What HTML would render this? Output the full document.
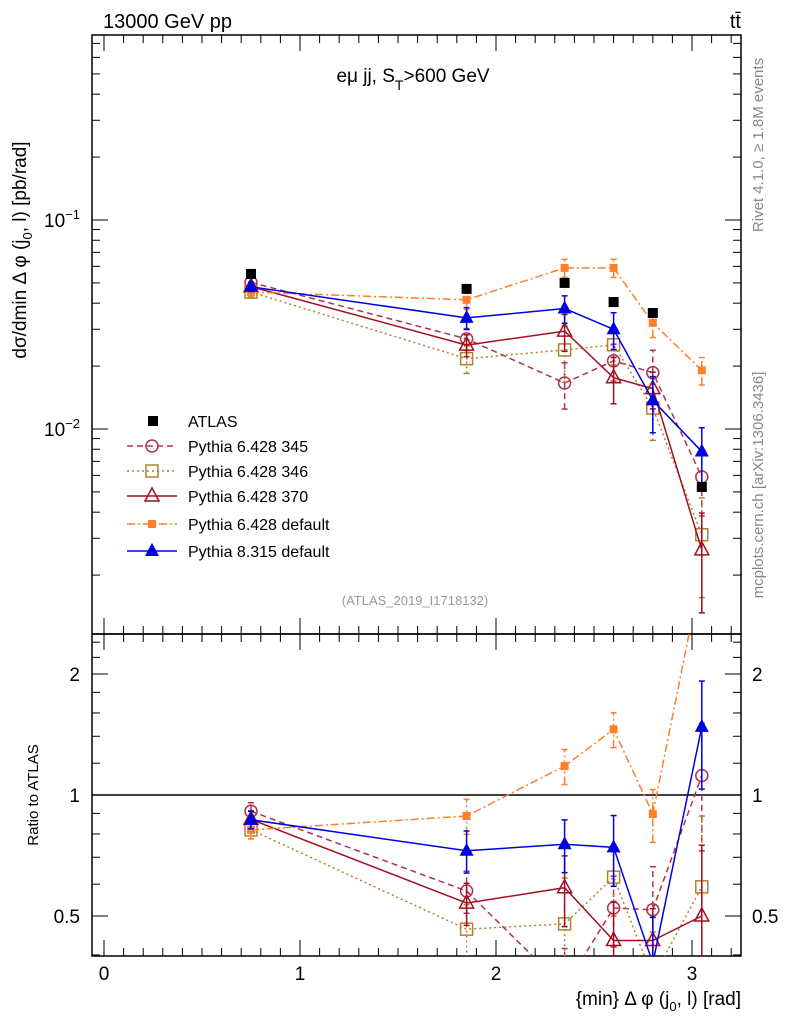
<!DOCTYPE html>
<html><head><meta charset="utf-8"><style>
body{margin:0;background:#fff;}
svg{font-family:"Liberation Sans",sans-serif;}
</style></head><body>
<svg id="c" width="786" height="1024" viewBox="0 0 786 1024">
<text x="103" y="28" font-size="20">13000 GeV pp</text>
<text x="741" y="28" font-size="20" text-anchor="end">tt̄</text>
<text x="413" y="82" font-size="19" text-anchor="middle">eμ jj, S<tspan dy="8" font-size="14">T</tspan><tspan dy="-8">&gt;600 GeV</tspan></text>
<text x="415" y="605" font-size="13" fill="#999" text-anchor="middle">(ATLAS_2019_I1718132)</text>
<text transform="translate(763,145) rotate(-90)" font-size="15" fill="#888" text-anchor="middle">Rivet 4.1.0, ≥ 1.8M events</text>
<text transform="translate(763,485) rotate(-90)" font-size="15" fill="#888" text-anchor="middle">mcplots.cern.ch [arXiv:1306.3436]</text>
<text transform="translate(26,250) rotate(-90)" font-size="19" text-anchor="middle">dσ/dmin Δ φ (j<tspan dy="6" font-size="13">0</tspan><tspan dy="-6">, l) [pb/rad]</tspan></text>
<text transform="translate(38,795) rotate(-90)" font-size="15" text-anchor="middle">Ratio to ATLAS</text>
<text x="741" y="1005" font-size="19" text-anchor="end">{min} Δ φ (j<tspan dy="6" font-size="13">0</tspan><tspan dy="-6">, l) [rad]</tspan></text>
<defs>
<clipPath id="cm"><rect x="92" y="35" width="649" height="599"/></clipPath>
<clipPath id="cr"><rect x="92" y="634" width="649" height="322"/></clipPath>
</defs>
<g id="axes"></g>
<g id="main" clip-path="url(#cm)"></g>
<g id="ratio" clip-path="url(#cr)"></g>
<g id="legend"></g>
</svg>
<script>
const xs=[0.75,1.85,2.35,2.6,2.8,3.05];
const atlas=[0.0552,0.0468,0.050,0.0405,0.0359,0.00528];
const py345=[0.0503,0.027,0.0166,0.0212,0.0186,0.0059];
const py346=[0.0452,0.0217,0.0239,0.0253,0.0126,0.00312];
const py370=[0.048,0.0252,0.0294,0.0176,0.0156,0.00264];
const py6def=[0.0452,0.0415,0.059,0.059,0.0322,0.0191];
const py8=[0.0479,0.034,0.0377,0.030,0.0137,0.0078];
const err345=[0.05,0.12,0.25,0.2,0.28,0.35];
const err346=[0.05,0.15,0.3,0.2,0.3,0.5];
const err370=[0.05,0.12,0.2,0.25,0.2,0.5];
const err6def=[0.05,0.1,0.1,0.1,0.15,0.15];
const err8=[0.05,0.12,0.15,0.2,0.3,0.3];
const xTicks=[0,1,2,3];
const yTicks=[0.1,0.01];
const rTicks=[0.5,1,2];
const NS="http://www.w3.org/2000/svg";
const L=92,R=741,MT=35,MB=634,RB=956;
const X=v=>104+v*196;
const Y=v=>220-(Math.log10(v)+1)*209;
const RY=v=>795-Math.log2(v)*121;
function el(t,a,p){const e=document.createElementNS(NS,t);for(const k in a)e.setAttribute(k,a[k]);p.appendChild(e);return e;}
const ax=document.getElementById('axes'),gm=document.getElementById('main'),gr=document.getElementById('ratio'),lg=document.getElementById('legend');
let f=el('rect',{x:L,y:MT,width:R-L,height:MB-MT,fill:'none',stroke:'#000','stroke-width':1.5},ax);

f=el('rect',{x:L,y:MB,width:R-L,height:RB-MB,fill:'none',stroke:'#000','stroke-width':1.5},ax);

for(let i=0;i<=33;i++){const v=i/10,x=X(v);if(x<L||x>R)continue;const big=i%10==0,len=big?16:8;
[MT,MB].forEach(y0=>{el('line',{x1:x,y1:y0,x2:x,y2:y0+len,stroke:'#000'},ax);});
[MB,RB].forEach(y0=>{el('line',{x1:x,y1:y0,x2:x,y2:y0-len,stroke:'#000'},ax);});}
xTicks.forEach(v=>{const t=el('text',{x:X(v),y:980,'font-size':19,'text-anchor':'middle'},ax);t.textContent=v;
});
for(let d=-3;d<=0;d++)for(let m=1;m<=9;m++){const v=m*Math.pow(10,d),y=Y(v);if(y<MT||y>MB)continue;const len=m==1?16:8;
el('line',{x1:L,y1:y,x2:L+len,y2:y,stroke:'#000'},ax);el('line',{x1:R,y1:y,x2:R-len,y2:y,stroke:'#000'},ax);}
yTicks.forEach(v=>{const e=Math.round(Math.log10(v));const t=el('text',{x:80,y:Y(v)+7,'font-size':19,'text-anchor':'end'},ax);
t.innerHTML='10<tspan dy="-8" font-size="13">−'+(-e)+'</tspan>';});
[0.4,0.5,0.6,0.7,0.8,0.9,1,1.2,1.4,1.6,1.8,2,2.2,2.4].forEach(v=>{const y=RY(v);if(y<MB||y>RB)return;const big=[0.5,1,2].includes(v),len=big?16:8;
el('line',{x1:L,y1:y,x2:L+len,y2:y,stroke:'#000'},ax);el('line',{x1:R,y1:y,x2:R-len,y2:y,stroke:'#000'},ax);});
rTicks.forEach(v=>{[[80,'end'],[752,'start']].forEach(([x,a])=>{const t=el('text',{x:x,y:RY(v)+7,'font-size':19,'text-anchor':a},ax);t.textContent=v;
});});
el('line',{x1:L,y1:RY(1),x2:R,y2:RY(1),stroke:'#000','stroke-width':1.5},gr);
function marker(p,type,c,x,y){
 if(type=='sqf')return el('rect',{x:x-5,y:y-5,width:10,height:10,fill:c},p);
 if(type=='sqs')return el('rect',{x:x-4,y:y-4,width:8,height:8,fill:c},p);
 if(type=='circ')return el('circle',{cx:x,cy:y,r:6,fill:'none',stroke:c,'stroke-width':1.5},p);
 if(type=='sqo')return el('rect',{x:x-6,y:y-6,width:12,height:12,fill:'none',stroke:c,'stroke-width':1.5},p);
 if(type=='trio')return el('polygon',{points:`${x},${y-8} ${x-7},${y+5} ${x+7},${y+5}`,fill:'none',stroke:c,'stroke-width':1.5},p);
 if(type=='trif')return el('polygon',{points:`${x},${y-8} ${x-7},${y+5} ${x+7},${y+5}`,fill:c},p);
}
const series=[
 {name:'Pythia 6.428 345',v:py345,e:err345,c:'#b03050',m:'circ',d:'6,4',id:'py6-345'},
 {name:'Pythia 6.428 346',v:py346,e:err346,c:'#b08030',m:'sqo',d:'2,3',id:'py6-346'},
 {name:'Pythia 6.428 370',v:py370,e:err370,c:'#a01020',m:'trio',d:'',id:'py6-370'},
 {name:'Pythia 6.428 default',v:py6def,e:err6def,c:'#ff7f2a',m:'sqs',d:'8,3,2,3',id:'py6-default'},
 {name:'Pythia 8.315 default',v:py8,e:err8,c:'#0000e0',m:'trif',d:'',id:'py8-default'}];
series.forEach(s=>{
 [[gm,i=>s.v[i],Y],[gr,i=>s.v[i]/atlas[i],RY]].forEach(([g,val,F])=>{
  const pts=xs.map((x,i)=>X(x)+','+F(val(i))).join(' ');
  const pl=el('polyline',{points:pts,fill:'none',stroke:s.c,'stroke-width':1.5,'stroke-dasharray':s.d},g);
  
  xs.forEach((x,i)=>{const v=val(i),lo=F(v*(1-s.e[i])),hi=F(v*(1+s.e[i])),px=X(x);
   el('line',{x1:px,y1:lo,x2:px,y2:hi,stroke:s.c,'stroke-width':1.5,'stroke-dasharray':s.d},g);
   el('line',{x1:px-3,y1:lo,x2:px+3,y2:lo,stroke:s.c,'stroke-width':1.5},g);
   el('line',{x1:px-3,y1:hi,x2:px+3,y2:hi,stroke:s.c,'stroke-width':1.5},g);
   const m=marker(g,s.m,s.c,px,F(v));});
 });
});
xs.forEach((x,i)=>{const m=marker(gm,'sqf','#000',X(x),Y(atlas[i]));
 });
const ly=[421,446,471,496,524,551];
let e=marker(lg,'sqf','#000',153,ly[0]);
let t=el('text',{x:188,y:ly[0]+6,'font-size':16},lg);t.textContent='ATLAS';
series.forEach((s,k)=>{const y=ly[k+1];
 el('line',{x1:127,y1:y,x2:177,y2:y,stroke:s.c,'stroke-width':1.5,'stroke-dasharray':s.d},lg);
 marker(lg,s.m,s.c,152,y);
 const tt=el('text',{x:188,y:y+6,'font-size':16},lg);tt.textContent=s.name;
 });
</script>
</body></html>
